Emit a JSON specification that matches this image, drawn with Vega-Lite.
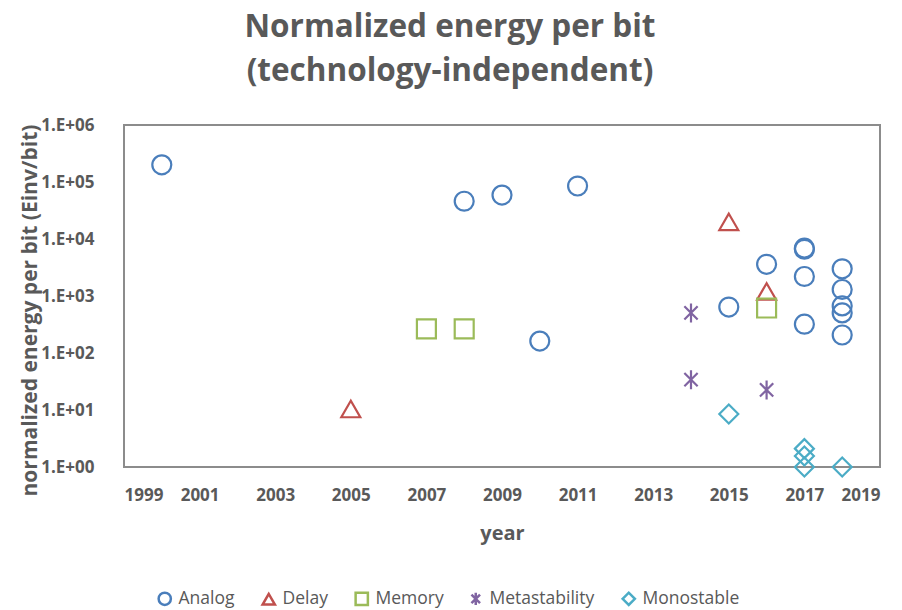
{
  "$schema": "https://vega.github.io/schema/vega-lite/v6.json",
  "width": 756,
  "height": 342,
  "autosize": {"type": "none"},
  "padding": {"left": 124, "top": 125, "right": 22, "bottom": 143},
  "background": "white",
  "title": {
    "text": ["Normalized energy per bit", "(technology-independent)"],
    "font": "Open Sans",
    "fontSize": 31.5,
    "fontWeight": "bold",
    "color": "#595959",
    "anchor": "middle",
    "frame": "group",
    "dx": -52,
    "lineHeight": 44,
    "offset": 29
  },
  "config": {
    "view": {"stroke": "#8c8c8c", "strokeWidth": 2},
    "font": "Open Sans"
  },
  "data": {
    "values": [
      {"year": 2000, "value": 200000, "type": "Analog"},
      {"year": 2008, "value": 46000, "type": "Analog"},
      {"year": 2009, "value": 59000, "type": "Analog"},
      {"year": 2011, "value": 85000, "type": "Analog"},
      {"year": 2010, "value": 162, "type": "Analog"},
      {"year": 2015, "value": 640, "type": "Analog"},
      {"year": 2016, "value": 3600, "type": "Analog"},
      {"year": 2017, "value": 6600, "type": "Analog"},
      {"year": 2017, "value": 6900, "type": "Analog"},
      {"year": 2017, "value": 2200, "type": "Analog"},
      {"year": 2017, "value": 320, "type": "Analog"},
      {"year": 2018, "value": 3000, "type": "Analog"},
      {"year": 2018, "value": 1300, "type": "Analog"},
      {"year": 2018, "value": 670, "type": "Analog"},
      {"year": 2018, "value": 505, "type": "Analog"},
      {"year": 2018, "value": 207, "type": "Analog"},
      {"year": 2005, "value": 10.4, "type": "Delay"},
      {"year": 2015, "value": 20000, "type": "Delay"},
      {"year": 2016, "value": 1200, "type": "Delay"},
      {"year": 2007, "value": 265, "type": "Memory"},
      {"year": 2008, "value": 265, "type": "Memory"},
      {"year": 2016, "value": 615, "type": "Memory"},
      {"year": 2014, "value": 505, "type": "Metastability"},
      {"year": 2014, "value": 34, "type": "Metastability"},
      {"year": 2016, "value": 22.5, "type": "Metastability"},
      {"year": 2015, "value": 8.5, "type": "Monostable"},
      {"year": 2017, "value": 2.1, "type": "Monostable"},
      {"year": 2017, "value": 1.56, "type": "Monostable"},
      {"year": 2017, "value": 1.0, "type": "Monostable"},
      {"year": 2018, "value": 1.0, "type": "Monostable"}
    ]
  },
  "mark": {"type": "point", "filled": false, "strokeWidth": 2.2, "size": 360, "opacity": 1},
  "encoding": {
    "x": {
      "field": "year",
      "type": "quantitative",
      "scale": {"domain": [1999, 2019], "nice": false, "zero": false},
      "axis": {
        "title": "year",
        "values": [1999, 2001, 2003, 2005, 2007, 2009, 2011, 2013, 2015, 2017, 2019],
        "format": "d",
        "grid": false,
        "domain": false,
        "ticks": false,
        "labelFont": "Open Sans",
        "labelFontSize": 17,
        "labelFontWeight": "bold",
        "labelColor": "#595959",
        "labelPadding": 20,
        "titleFont": "Open Sans",
        "titleFontSize": 20,
        "titleFontWeight": "bold",
        "titleColor": "#595959",
        "titlePadding": 20
      }
    },
    "y": {
      "field": "value",
      "type": "quantitative",
      "scale": {"type": "log", "domain": [1, 1000000], "nice": false},
      "axis": {
        "title": "normalized energy per bit (Einv/bit)",
        "values": [1, 10, 100, 1000, 10000, 100000, 1000000],
        "labelExpr": "'1.E+0' + round(log(datum.value)/LN10)",
        "grid": false,
        "domain": false,
        "ticks": false,
        "labelFont": "Open Sans",
        "labelFontSize": 17,
        "labelFontWeight": "bold",
        "labelColor": "#595959",
        "labelPadding": 30,
        "titleFont": "Open Sans",
        "titleFontSize": 21,
        "titleFontWeight": "bold",
        "titleColor": "#595959",
        "titleY": 185,
        "titlePadding": 0
      }
    },
    "color": {
      "field": "type",
      "type": "nominal",
      "scale": {
        "domain": ["Analog", "Delay", "Memory", "Metastability", "Monostable"],
        "range": ["#4a7ebb", "#c0504d", "#9bbb59", "#8064a2", "#4bacc6"]
      },
      "legend": {
        "title": null,
        "orient": "none",
        "legendX": 32,
        "legendY": 465,
        "direction": "horizontal",
        "labelFont": "Open Sans",
        "labelFontSize": 17.5,
        "labelColor": "#595959",
        "symbolSize": 150,
        "symbolStrokeWidth": 2.5,
        "columnPadding": 22,
        "labelOffset": 5,
        "symbolFillColor": "transparent"
      }
    },
    "shape": {
      "field": "type",
      "type": "nominal",
      "scale": {
        "domain": ["Analog", "Delay", "Memory", "Metastability", "Monostable"],
        "range": ["circle", "triangle-up", "square", "M-0.7,-0.7L0.7,0.7M0.7,-0.7L-0.7,0.7M0,-1L0,1", "diamond"]
      },
      "legend": {
        "title": null,
        "orient": "none",
        "legendX": 32,
        "legendY": 465,
        "direction": "horizontal",
        "labelFont": "Open Sans",
        "labelFontSize": 17.5,
        "labelColor": "#595959",
        "symbolSize": 150,
        "symbolStrokeWidth": 2.5,
        "columnPadding": 22,
        "labelOffset": 5,
        "symbolFillColor": "transparent"
      }
    }
  }
}
